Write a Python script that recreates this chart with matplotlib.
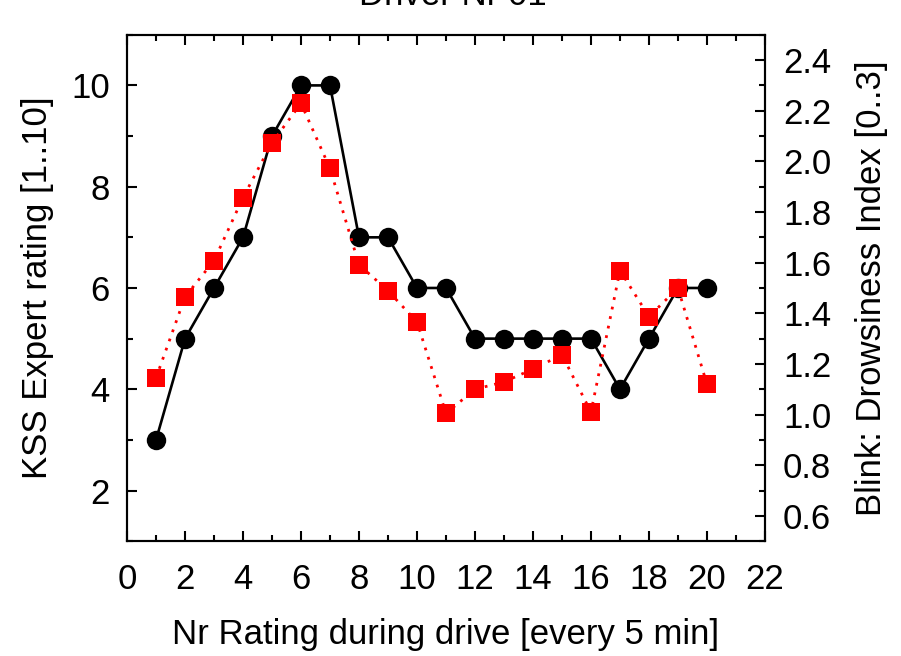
import matplotlib
matplotlib.use('Agg')
import matplotlib.pyplot as plt
from matplotlib.ticker import MultipleLocator

plt.rcParams['font.family'] = ['Liberation Sans', 'DejaVu Sans']

# Data
nr_rating = list(range(1, 21))
kss_rating = [3, 5, 6, 7, 9, 10, 10, 7, 7, 6, 6, 5, 5, 5, 5, 5, 4, 5, 6, 6]
blink_index = [1.145, 1.465, 1.608, 1.857, 2.074, 2.229, 1.972, 1.592, 1.489, 1.366,
               1.005, 1.100, 1.129, 1.180, 1.236, 1.010, 1.569, 1.387, 1.500, 1.120]

title = 'Driver Nr 01'
xlabel = 'Nr Rating during drive [every 5 min]'
ylabel_left = 'KSS Expert rating [1..10]'
ylabel_right = 'Blink: Drowsiness Index [0..3]'

FS = 25

fig = plt.figure(figsize=(9.01, 6.56), dpi=100)
ax = fig.add_axes([0.141, 0.175, 0.708, 0.772])

ax.plot(nr_rating, kss_rating, color='black', lw=1.9, marker='o', ms=14,
        markeredgewidth=0, zorder=3)
ax.set_xlim(0, 22)
ax.set_ylim(1, 11)
ax.xaxis.set_major_locator(MultipleLocator(2))
ax.xaxis.set_minor_locator(MultipleLocator(1))
ax.yaxis.set_major_locator(MultipleLocator(2))
ax.yaxis.set_minor_locator(MultipleLocator(1))
ax.tick_params(which='both', direction='in', top=True, right=False, labelsize=FS, width=1.5)
ax.tick_params(which='major', length=7)
ax.tick_params(which='minor', length=4)
ax.tick_params(axis='x', pad=15.5)
ax.tick_params(axis='y', pad=12.5)
ax.set_xlabel(xlabel, fontsize=FS, labelpad=16)
ax.set_ylabel(ylabel_left, fontsize=FS, labelpad=12)

ax2 = ax.twinx()
ax2.plot(nr_rating, blink_index, color='red', lw=2, ls=(0, (1, 2.5)), marker='s', ms=13.5,
         markeredgewidth=0, zorder=3)
ax2.set_ylim(0.5, 2.5)
ax2.yaxis.set_major_locator(MultipleLocator(0.2))
ax2.yaxis.set_minor_locator(MultipleLocator(0.1))
ax2.yaxis.set_major_formatter(plt.FormatStrFormatter('%.1f'))
ax2.tick_params(which='both', direction='in', labelsize=FS, width=1.5, pad=13)
ax2.tick_params(which='major', length=7)
ax2.tick_params(which='minor', length=4)
ax2.set_ylabel(ylabel_right, fontsize=FS, labelpad=17)

for a in (ax, ax2):
    for s in a.spines.values():
        s.set_linewidth(1.5)

fig.text(0.503, 0.992, title, ha='center', va='baseline', fontsize=FS)

fig.savefig('out.png', dpi=100)
